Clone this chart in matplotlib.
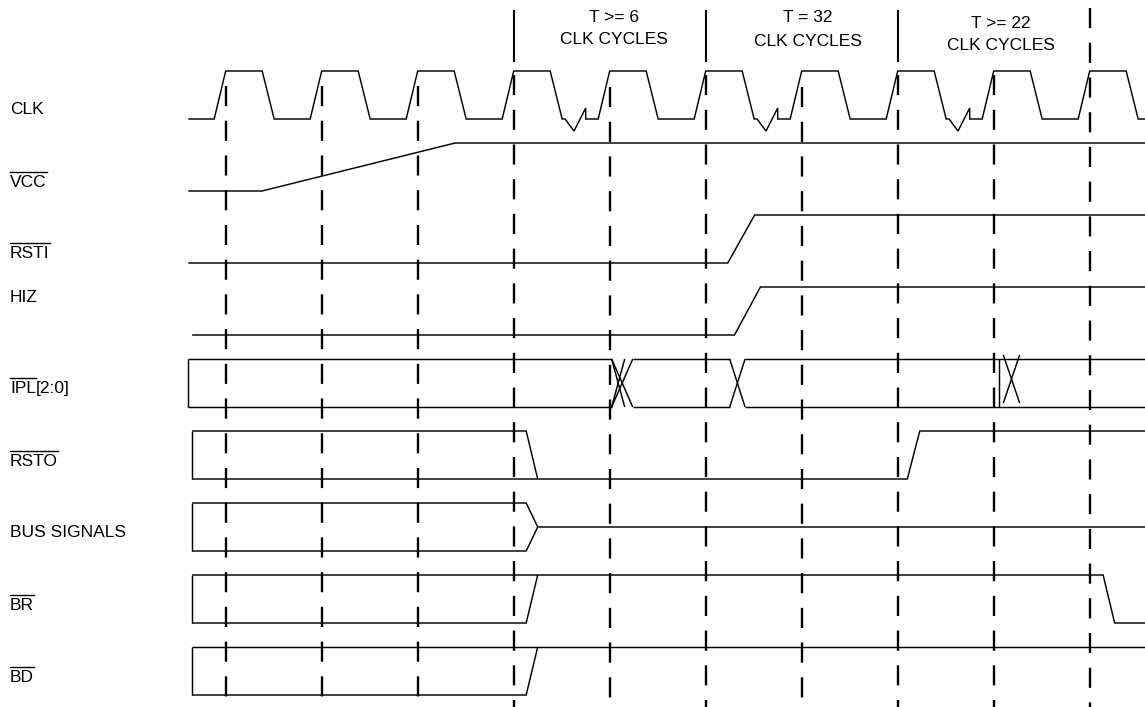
import matplotlib
matplotlib.use("Agg")
import matplotlib.pyplot as plt
from matplotlib.lines import Line2D

plt.rcParams['font.family'] = ['Liberation Sans', 'DejaVu Sans']
plt.rcParams['lines.scale_dashes'] = False

# ---------------- data (times in clock periods, t = 0 at first marker) -------------
signal_names = ["CLK", "VCC", "RSTI", "HIZ", "IPL", "RSTO", "BUS SIGNALS", "BR", "BD"]
label_suffix = ["", "", "", "", "[2:0]", "", "", "", ""]
overbar = [False, True, True, False, True, True, False, True, True]

clk_rising_edges = [0, 1, 2, 3, 4, 5, 6, 7, 8, 9]
clk_break_cycles = [3, 5, 7]
marker_times = [0, 1, 2, 3, 4, 5, 6, 7, 8, 9]
section_bounds = [3, 5, 7]
section_labels = ["T >= 6\nCLK CYCLES", "T = 32\nCLK CYCLES", "T >= 22\nCLK CYCLES"]

t_start = -0.39
t_start_box = -0.35
t_end = 9.58
vcc_ramp = (0.378, 2.39)
rsti_ramp = (5.23, 5.51)
hiz_ramp = (5.30, 5.57)
ipl_transitions = [(4.02, 4.24), (5.25, 5.41), (8.10, 8.27)]
ipl_marker = 8.06
rsto_fall = (3.13, 3.25)
rsto_rise = (7.10, 7.23)
bus_converge = (3.13, 3.25)
br_rise = (3.13, 3.25)
br_fall = (9.14, 9.26)
bd_rise = (3.13, 3.25)

# ---------------- layout ----------------
W, H = 1145, 707
X0, P = 225.7, 96.0
fig = plt.figure(figsize=(W / 100, H / 100), dpi=100)
ax = fig.add_axes([0, 0, 1, 1])
ax.set_xlim((0 - X0) / P, (W - X0) / P)
ax.set_ylim(H, 0)
ax.axis("off")

LW = 1.05
kw = dict(color="black", lw=LW, solid_joinstyle="miter", solid_capstyle="butt")


def lane(i):
    top = 71 + 72 * i
    return top, top + 48


# CLK
hi, lo = lane(0)
xs, ys = [t_start], [lo]
for tr in clk_rising_edges:
    xs += [tr - 0.12, tr, tr + 0.38, tr + 0.505]
    ys += [lo, hi, hi, lo]
    if tr in clk_break_cycles:
        xs += [tr + 0.535, tr + 0.628, tr + 0.75, tr + 0.75]
        ys += [lo, lo + 12, lo - 11, lo]
xs.append(t_end)
ys.append(lo)
ax.plot(xs, ys, **kw)

# VCC
hi, lo = lane(1)
ax.plot([t_start, vcc_ramp[0], vcc_ramp[1], t_end], [lo, lo, hi, hi], **kw)

# RSTI
hi, lo = lane(2)
ax.plot([t_start, rsti_ramp[0], rsti_ramp[1], t_end], [lo, lo, hi, hi], **kw)

# HIZ
hi, lo = lane(3)
ax.plot([t_start_box, hiz_ramp[0], hiz_ramp[1], t_end], [lo, lo, hi, hi], **kw)

# IPL bus
top, bot = lane(4)
segs_start = [t_start] + [b for a, b in ipl_transitions[:2]]
segs_end = [a for a, b in ipl_transitions[:2]] + [t_end]
for s, e in zip(segs_start, segs_end):
    ax.plot([s, e], [top, top], **kw)
    ax.plot([s, e], [bot, bot], **kw)
ax.plot([t_start, t_start], [top, bot], **kw)
for a, b in ipl_transitions[:2]:
    ax.plot([a, b], [top, bot], **kw)
    ax.plot([a, b], [bot, top], **kw)
a0, b0 = ipl_transitions[0]
mid0 = a0 + (b0 - a0) * 0.62
ax.plot([a0, mid0], [top, bot], **kw)
ax.plot([a0, mid0], [bot, top], **kw)
a, b = ipl_transitions[2]
ax.plot([ipl_marker, ipl_marker], [top, bot], **kw)
ax.plot([a, b], [top - 4, bot - 4], **kw)
ax.plot([a, b], [bot - 4, top - 4], **kw)

# RSTO
top, bot = lane(5)
ax.plot([t_start_box, t_start_box], [top, bot], **kw)
ax.plot([t_start_box, rsto_fall[0], rsto_fall[1]], [top, top, bot], **kw)
ax.plot([t_start_box, rsto_rise[0], rsto_rise[1], t_end], [bot, bot, top, top], **kw)

# BUS SIGNALS
top, bot = lane(6)
mid = (top + bot) / 2
ax.plot([t_start_box, t_start_box], [top, bot], **kw)
ax.plot([t_start_box, bus_converge[0], bus_converge[1], t_end], [top, top, mid, mid], **kw)
ax.plot([t_start_box, bus_converge[0], bus_converge[1]], [bot, bot, mid], **kw)

# BR
top, bot = lane(7)
ax.plot([t_start_box, t_start_box], [top, bot], **kw)
ax.plot([t_start_box, br_fall[0], br_fall[1], t_end], [top, top, bot, bot], **kw)
ax.plot([t_start_box, br_rise[0], br_rise[1]], [bot, bot, top], **kw)

# BD
top, bot = lane(8)
ax.plot([t_start_box, t_start_box], [top, bot], **kw)
ax.plot([t_start_box, t_end], [top, top], **kw)
ax.plot([t_start_box, bd_rise[0], bd_rise[1]], [bot, bot, top], **kw)

# marker lines
dash_style = (0, (14.5, 10.5))
dash_start = {0: 86, 1: 86, 2: 86, 3: 75, 4: 87, 5: 75, 6: 87, 7: 75, 8: 75, 9: 8}
for t in marker_times:
    ax.plot([t, t], [dash_start.get(t, 86), H], color="black", lw=1.7,
            linestyle=dash_style)
for t in section_bounds:
    ax.plot([t, t], [10, 62], color="black", lw=1.5, solid_capstyle="butt")

# section labels
label_pos = [(614, 17.5, 40), (808, 18, 42), (1001, 23.5, 46)]
for txt, (x, y1, y2) in zip(section_labels, label_pos):
    l1, l2 = txt.split("\n")
    ax.text(x / W, 1 - y1 / H, l1, transform=ax.transAxes, ha="center", va="center",
            fontsize=12.5)
    ax.text(x / W, 1 - y2 / H, l2, transform=ax.transAxes, ha="center", va="center",
            fontsize=12.5)

# signal labels
baselines = [114, 187, 258, 302, 393, 466, 537, 610, 682]
FS = 12.5
texts = []
for name, suf, b in zip(signal_names, label_suffix, baselines):
    t = fig.text(10 / W, 1 - b / H, name, ha="left", va="baseline", fontsize=FS)
    texts.append(t)
fig.canvas.draw()
r = fig.canvas.get_renderer()
for t, suf, ob, b in zip(texts, label_suffix, overbar, baselines):
    bb = t.get_window_extent(r)
    if suf:
        fig.text(bb.x1 / W, 1 - b / H, suf, ha="left", va="baseline", fontsize=FS)
    if ob:
        yb = b - 0.716 * FS * 100 / 72 - 3
        fig.add_artist(Line2D([bb.x0 / W, bb.x1 / W], [1 - yb / H, 1 - yb / H],
                              transform=fig.transFigure, color="black", lw=1.0))

fig.savefig("out.png", dpi=100)
